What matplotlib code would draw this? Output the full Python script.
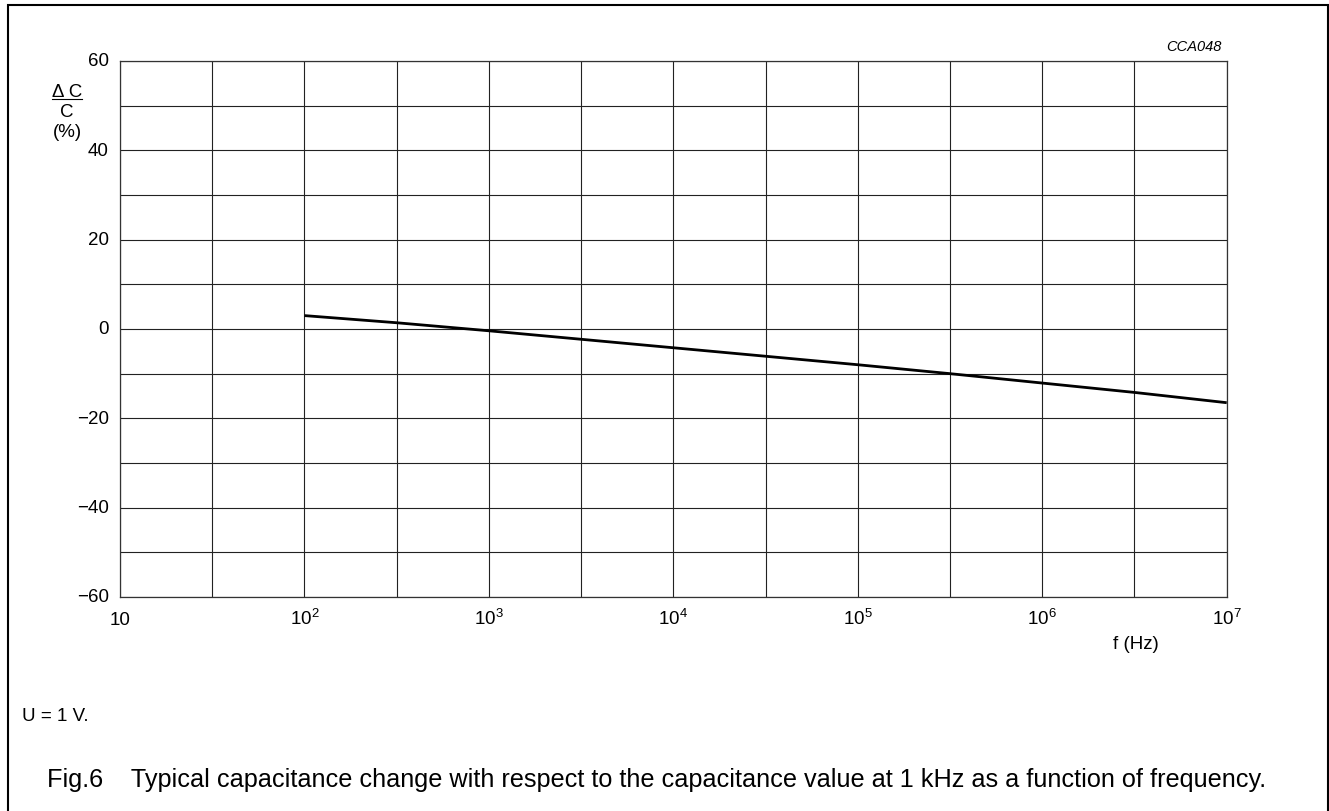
import matplotlib
matplotlib.use("Agg")
import matplotlib.pyplot as plt
from matplotlib.lines import Line2D
from matplotlib.patches import Rectangle
from matplotlib.transforms import blended_transform_factory
import numpy as np

plt.rcParams['font.family'] = ['Liberation Sans', 'DejaVu Sans']
plt.rcParams['mathtext.fontset'] = 'custom'
plt.rcParams['mathtext.rm'] = 'Liberation Sans'
plt.rcParams['mathtext.it'] = 'Liberation Sans:italic'

# data: log10(frequency) and capacitance change (%)
log_freq = [2.0, 2.5, 3.0, 3.5, 4.0, 4.5, 5.0, 5.5, 6.0, 6.5, 7.0]
delta_c = [3.0, 1.4, -0.4, -2.3, -4.2, -6.1, -8.0, -10.0, -12.1, -14.2, -16.5]
x_tick_exps = [1, 2, 3, 4, 5, 6, 7]
x_tick_labels = ['10', '$10^{2}$', '$10^{3}$', '$10^{4}$', '$10^{5}$', '$10^{6}$', '$10^{7}$']
y_ticks = [-60, -40, -20, 0, 20, 40, 60]

W, H = 1329, 812
fig = plt.figure(figsize=(W / 100, H / 100), dpi=100)

def fx(px):
    return px / W

def fy(py):
    return 1 - py / H

FS = 13.5

ax = fig.add_axes([fx(120), fy(598), fx(1226.7) - fx(120), fy(62) - fy(598)])
freq = [10 ** v for v in log_freq]
ax.plot(freq, delta_c, color='black', lw=2.0, solid_capstyle='butt', zorder=3)
ax.set_xscale('log')
ax.set_xlim(10, 1e7)
ax.set_ylim(-60, 60)

ax.set_xticks([10 ** k for k in x_tick_exps])
ax.set_xticklabels([])
ax.set_xticks([10 ** (k + 0.5) for k in range(1, 7)], minor=True)
ax.set_xticklabels([], minor=True)
ax.set_yticks(y_ticks)
ax.set_yticklabels([str(v).replace('-', '\u2212') for v in y_ticks])
ax.set_yticks(list(range(-50, 60, 20)), minor=True)
ax.tick_params(which='both', length=0)
ax.tick_params(axis='y', pad=8, labelsize=FS)
for lab in ax.get_yticklabels():
    lab.set_verticalalignment('center')
ax.grid(True, which='both', color='#222222', lw=0.8)
for s in ax.spines.values():
    s.set_color('#333333')
    s.set_linewidth(0.9)

# x tick labels aligned on a common baseline
trans = blended_transform_factory(ax.transData, fig.transFigure)
for k, lab in zip(x_tick_exps, x_tick_labels):
    fig.text(10 ** k, fy(625), lab, transform=trans, ha='center', va='baseline', fontsize=FS)

# y-axis label: fraction  ΔC / C (%)
fig.text(fx(67), fy(97), '\u0394 C', ha='center', va='baseline', fontsize=FS)
fig.add_artist(Line2D([fx(52), fx(82)], [fy(99.5), fy(99.5)], color='black', lw=0.8))
fig.text(fx(67), fy(117), 'C', ha='center', va='baseline', fontsize=FS)
fig.text(fx(67), fy(137), '(%)', ha='center', va='baseline', fontsize=FS)

fig.text(fx(1222), fy(51), 'CCA048', ha='right', va='baseline', fontsize=10.5, style='italic')
fig.text(fx(1136), fy(649), 'f (Hz)', ha='center', va='baseline', fontsize=FS)
fig.text(fx(22), fy(721), 'U = 1 V.', ha='left', va='baseline', fontsize=FS)
fig.text(fx(47), fy(787),
         'Fig.6    Typical capacitance change with respect to the capacitance value at 1 kHz as a function of frequency.',
         ha='left', va='baseline', fontsize=18.2)

# outer frame (bottom edge lies outside the picture)
fig.add_artist(Rectangle((fx(7.5), -0.1), fx(1327.5) - fx(7.5), fy(5.5) + 0.1,
                         fill=False, edgecolor='black', lw=1.5))

fig.savefig('out.png', dpi=100)
